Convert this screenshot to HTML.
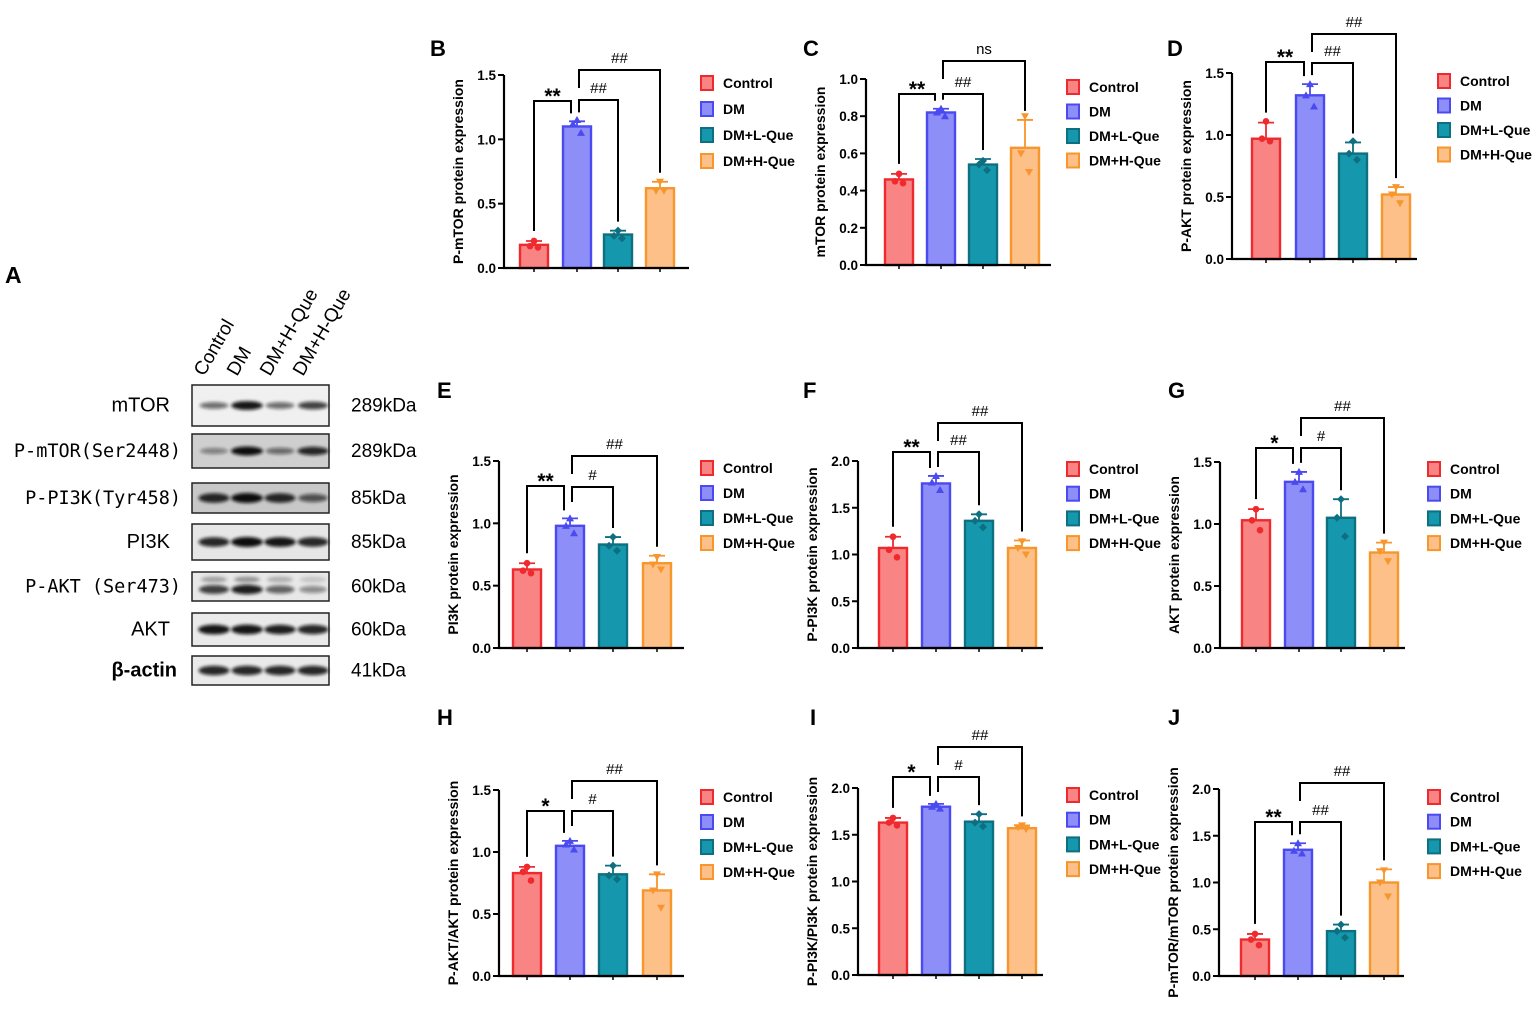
<!DOCTYPE html>
<html><head><meta charset="utf-8">
<style>
html,body{margin:0;padding:0;background:#fff;}
svg{display:block;font-family:"Liberation Sans",Arial,sans-serif;}
</style></head>
<body>
<svg id="fig" width="1535" height="1010" viewBox="0 0 1535 1010" xmlns="http://www.w3.org/2000/svg">
<defs>
<filter id="blur1" x="-20%" y="-100%" width="140%" height="300%"><feGaussianBlur stdDeviation="1.6"/></filter>
</defs>
<g id="blot"></g>
<g id="charts"></g>
</svg>
<script>
const NS='http://www.w3.org/2000/svg';
function mk(tag,attrs,parent){const e=document.createElementNS(NS,tag);for(const k in attrs)e.setAttribute(k,attrs[k]);if(parent)parent.appendChild(e);return e;}

// ---------- data ----------
const groups=["Control","DM","DM+L-Que","DM+H-Que"];
const bVals=[0.18,1.10,0.26,0.62], bErr=[0.03,0.04,0.03,0.05];
const bPts=[[0.21,0.17,0.16],[1.15,1.12,1.05],[0.29,0.25,0.23],[0.67,0.60,0.60]];
const cVals=[0.46,0.82,0.54,0.63], cErr=[0.03,0.02,0.03,0.15];
const cPts=[[0.49,0.45,0.44],[0.84,0.82,0.80],[0.56,0.54,0.51],[0.80,0.60,0.50]];
const dVals=[0.97,1.32,0.85,0.52], dErr=[0.13,0.09,0.09,0.06];
const dPts=[[1.11,0.97,0.95],[1.41,1.32,1.23],[0.95,0.85,0.80],[0.58,0.52,0.45]];
const eVals=[0.63,0.98,0.83,0.68], eErr=[0.05,0.06,0.06,0.06];
const ePts=[[0.68,0.62,0.60],[1.04,0.98,0.92],[0.89,0.82,0.78],[0.73,0.67,0.63]];
const fVals=[1.07,1.76,1.36,1.07], fErr=[0.12,0.08,0.07,0.08];
const fPts=[[1.19,1.05,0.97],[1.84,1.77,1.69],[1.43,1.36,1.29],[1.14,1.07,1.00]];
const gVals=[1.03,1.34,1.05,0.77], gErr=[0.09,0.08,0.15,0.08];
const gPts=[[1.12,1.03,0.95],[1.42,1.34,1.28],[1.20,1.05,0.90],[0.85,0.78,0.70]];
const hVals=[0.83,1.05,0.82,0.69], hErr=[0.05,0.04,0.07,0.13];
const hPts=[[0.88,0.84,0.77],[1.09,1.06,1.02],[0.89,0.81,0.78],[0.82,0.69,0.55]];
const iVals=[1.63,1.80,1.64,1.57], iErr=[0.05,0.03,0.08,0.03];
const iPts=[[1.68,1.63,1.60],[1.83,1.80,1.78],[1.72,1.63,1.59],[1.60,1.58,1.56]];
const jVals=[0.39,1.35,0.48,1.00], jErr=[0.06,0.07,0.07,0.14];
const jPts=[[0.45,0.39,0.33],[1.42,1.34,1.31],[0.55,0.48,0.41],[1.13,1.00,0.85]];
const ticks15=[0,0.5,1.0,1.5], ticks15Labels=["0.0","0.5","1.0","1.5"];
const ticks10=[0,0.2,0.4,0.6,0.8,1.0], ticks10Labels=["0.0","0.2","0.4","0.6","0.8","1.0"];
const ticks20=[0,0.5,1.0,1.5,2.0], ticks20Labels=["0.0","0.5","1.0","1.5","2.0"];
const bSig=["**","##","##"], cSig=["**","##","ns"], dSig=["**","##","##"];
const eSig=["**","#","##"], fSig=["**","##","##"], gSig=["*","#","##"];
const hSig=["*","#","##"], iSig=["*","#","##"], jSig=["**","##","##"];

const fills=["#f98484","#8e8ef8","#1598ae","#fcc088"];
const strokes=["#ef2a2e","#4a4af0","#0e6f80","#f7962c"];

const panels=[
 {id:'b',letter:'B',lx:430,ly:56,title:'P-mTOR protein expression',vals:bVals,err:bErr,pts:bPts,ticks:ticks15,tl:ticks15Labels,max:1.5,ax:504,y0:268,yt:75,cx:[534,577,618,660],leg:[700,83],legGap:26,br:[101,100,70],sig:bSig},
 {id:'c',letter:'C',lx:803,ly:56,title:'mTOR protein expression',vals:cVals,err:cErr,pts:cPts,ticks:ticks10,tl:ticks10Labels,max:1.0,ax:866,y0:265,yt:79,cx:[899,941,983,1025],leg:[1066,87],legGap:24.5,br:[94,94,61],sig:cSig},
 {id:'d',letter:'D',lx:1167,ly:56,title:'P-AKT protein expression',vals:dVals,err:dErr,pts:dPts,ticks:ticks15,tl:ticks15Labels,max:1.5,ax:1232,y0:259,yt:73,cx:[1266,1310,1353,1396],leg:[1437,81],legGap:24.5,br:[62,63,34],sig:dSig},
 {id:'e',letter:'E',lx:437,ly:398,title:'PI3K protein expression',vals:eVals,err:eErr,pts:ePts,ticks:ticks15,tl:ticks15Labels,max:1.5,ax:499,y0:648,yt:461,cx:[527,570,613,657],leg:[700,468],legGap:25,br:[486,487,456],sig:eSig},
 {id:'f',letter:'F',lx:803,ly:398,title:'P-PI3K protein expression',vals:fVals,err:fErr,pts:fPts,ticks:ticks20,tl:ticks20Labels,max:2.0,ax:858,y0:648,yt:461,cx:[893,936,979,1022],leg:[1066,469],legGap:24.7,br:[452,452,423],sig:fSig},
 {id:'g',letter:'G',lx:1168,ly:398,title:'AKT protein expression',vals:gVals,err:gErr,pts:gPts,ticks:ticks15,tl:ticks15Labels,max:1.5,ax:1220,y0:648,yt:462,cx:[1256,1299,1341,1384],leg:[1427,469],legGap:24.7,br:[448,448,418],sig:gSig},
 {id:'h',letter:'H',lx:437,ly:725,title:'P-AKT/AKT protein expression',vals:hVals,err:hErr,pts:hPts,ticks:ticks15,tl:ticks15Labels,max:1.5,ax:499,y0:976,yt:790,cx:[527,570,613,657],leg:[700,797],legGap:25,br:[811,811,781],sig:hSig},
 {id:'i',letter:'I',lx:810,ly:725,title:'P-PI3K/PI3K protein expression',vals:iVals,err:iErr,pts:iPts,ticks:ticks20,tl:ticks20Labels,max:2.0,ax:858,y0:975,yt:788,cx:[893,936,979,1022],leg:[1066,795],legGap:24.7,br:[777,777,747],sig:iSig},
 {id:'j',letter:'J',lx:1168,ly:725,title:'P-mTOR/mTOR protein expression',vals:jVals,err:jErr,pts:jPts,ticks:ticks20,tl:ticks20Labels,max:2.0,ax:1219,y0:976,yt:789,cx:[1255,1298,1341,1384],leg:[1427,797],legGap:24.7,br:[822,822,783],sig:jSig}
];

function marker(g,shape,x,y,color){
  let m;
  if(shape===0) m=mk('circle',{cx:x,cy:y,r:3.3,fill:color},g);
  else if(shape===1) m=mk('polygon',{points:`${x},${y-4} ${x+4},${y+3} ${x-4},${y+3}`,fill:color},g);
  else if(shape===2) m=mk('polygon',{points:`${x},${y-4} ${x+4},${y} ${x},${y+4} ${x-4},${y}`,fill:color},g);
  else m=mk('polygon',{points:`${x},${y+4} ${x+4},${y-3} ${x-4},${y-3}`,fill:color},g);
  
  
}

const chartsG=document.getElementById('charts');
panels.forEach(p=>{
  const g=mk('g',{},chartsG);
  
  
  const y=v=>p.y0-v/p.max*(p.y0-p.yt);
  const L=mk('text',{x:p.lx,y:p.ly,'font-size':22,'font-weight':'bold',fill:'#000'},g);
  L.textContent=p.letter;
  
  
  p.vals.forEach((v,i)=>{
    const cx=p.cx[i],w=28;
    const r=mk('rect',{x:cx-w/2,y:y(v),width:w,height:p.y0-y(v),fill:fills[i],stroke:strokes[i],'stroke-width':2.4},g);
    
    
    const top=y(v+p.err[i]);
    const eb=mk('path',{d:`M${cx},${y(v)}V${top}M${cx-8},${top}H${cx+8}`,stroke:strokes[i],'stroke-width':1.8,fill:'none'},g);
    
    
    const offs=[0,-4,4];
    p.pts[i].forEach((pv,k)=>marker(g,i,cx+offs[k],y(pv),strokes[i]));
  });
  const axis=mk('path',{d:`M${p.ax},${p.yt}V${p.y0}H${p.ax+185}`,stroke:'#000','stroke-width':2.2,fill:'none'},g);
  
  
  p.ticks.forEach((t,k)=>{
    const ty=y(t);
    mk('line',{x1:p.ax-6,x2:p.ax,y1:ty,y2:ty,stroke:'#000','stroke-width':2},g);
    const tx=mk('text',{x:p.ax-8,y:ty+5,'font-size':13.5,'font-weight':'bold','text-anchor':'end'},g);
    tx.textContent=p.tl[k];
    
    
  });
  p.cx.forEach(cx=>mk('line',{x1:cx,x2:cx,y1:p.y0,y2:p.y0+4,stroke:'#000','stroke-width':1.5},g));
  const yc=(p.yt+p.y0)/2, xt=p.ax-41;
  const yt=mk('text',{x:xt,y:yc,'font-size':14,'font-weight':'bold','text-anchor':'middle',transform:`rotate(-90 ${xt} ${yc})`},g);
  yt.textContent=p.title;
  
  
  const tops=p.vals.map((v,i)=>y(v+p.err[i]));
  const c=p.cx;
  const segs=[
    {x1:c[0],x2:c[1]-6,t:p.br[0],e1:tops[0]-10,e2:tops[1]-8},
    {x1:c[1]+2,x2:c[2],t:p.br[1],e1:Math.min(tops[1]-9,p.br[1]+15),e2:tops[2]-9},
    {x1:c[1]+2,x2:c[3],t:p.br[2],e1:p.br[2]+18,e2:tops[3]-9}
  ];
  segs.forEach((s,k)=>{
    const b=mk('path',{d:`M${s.x1},${s.e1}V${s.t}H${s.x2}V${s.e2}`,stroke:'#000','stroke-width':2,fill:'none'},g);
    
    
    const lab=p.sig[k];
    const star=lab.indexOf('*')>=0;
    const st=mk('text',{x:(s.x1+s.x2)/2,y:star?s.t+2:s.t-7,'font-size':star?21:15,'font-weight':star?'bold':'normal','text-anchor':'middle'},g);
    st.textContent=lab;
    
    
  });
  groups.forEach((gn,i)=>{
    const ly=p.leg[1]+i*p.legGap;
    const lg=mk('g',{},g);
    
    
    mk('rect',{x:p.leg[0]+1,y:ly-7,width:12,height:14,fill:fills[i],stroke:strokes[i],'stroke-width':2},lg);
    const t=mk('text',{x:p.leg[0]+23,y:ly+5,'font-size':14,'font-weight':'bold'},lg);
    t.textContent=gn;
  });
});

// ---------- western blot ----------
const blotRows=["mTOR","P-mTOR(Ser2448)","P-PI3K(Tyr458)","PI3K","P-AKT\u00a0(Ser473)","AKT","\u03b2-actin"];
const blotKda=["289kDa","289kDa","85kDa","85kDa","60kDa","60kDa","41kDa"];
const blotIntensity=[[0.45,0.95,0.45,0.7],[0.25,1.0,0.4,0.85],[0.85,1.0,0.85,0.55],[0.85,1.0,0.95,0.85],[0.7,0.9,0.5,0.25],[0.95,0.95,0.9,0.85],[0.85,0.85,0.85,0.85]];
const laneLabels=["Control","DM","DM+H-Que","DM+H-Que"];
const boxes=[[385,426],[434,468],[483,513],[524,560],[572,601],[613,646],[656,685]];
const bg=["#f0f0f0","#cfcfcf","#c8c8c8","#e6e6e6","#e8e8e8","#eaeaea","#eaeaea"];
const lanesX=[214,247,280,313];
const blot=document.getElementById('blot');
const A=mk('text',{x:5,y:283,'font-size':23,'font-weight':'bold'},blot);
A.textContent='A';


laneLabels.forEach((t,i)=>{
  const x=lanesX[i]-10,y0=377;
  const tx=mk('text',{x:x,y:y0,'font-size':19,transform:`rotate(-60 ${x} ${y0})`},blot);
  tx.textContent=t;
  
  
});
blotRows.forEach((r,i)=>{
  const [t,b]=boxes[i];
  const mid=(t+b)/2;
  const mono=i>=1&&i<=4&&i!==3;
  const lt=mk('text',{x:i===0||i===3||i===5?170:(i===6?177:181),y:mid+6,'font-size':mono?18.5:20,'text-anchor':'end','font-family':mono?'"DejaVu Sans Mono","Liberation Mono",monospace':'"Liberation Sans",sans-serif','font-weight':i===6?'bold':'normal'},blot);
  lt.textContent=r;
  
  
  const bx=mk('rect',{x:192,y:t,width:137,height:b-t,fill:bg[i],stroke:'#222','stroke-width':1.5},blot);
  
  
  blotIntensity[i].forEach((v,k)=>{
    const h=i<=1?3+v*4:4+v*4;
    const e=mk('ellipse',{cx:lanesX[k],cy:i===4?mid+3:mid,rx:13+v*3,ry:h/2+1,fill:'#111','fill-opacity':0.25+v*0.75,filter:'url(#blur1)'},blot);
    
    
    if(i===4){
      const e2=mk('ellipse',{cx:lanesX[k],cy:mid-7,rx:13,ry:3,fill:'#333','fill-opacity':0.1+v*0.4,filter:'url(#blur1)'},blot);
      
      
    }
  });
  const kd=mk('text',{x:351,y:mid+6,'font-size':19},blot);
  kd.textContent=blotKda[i];
  
  
});
</script>
</body></html>
